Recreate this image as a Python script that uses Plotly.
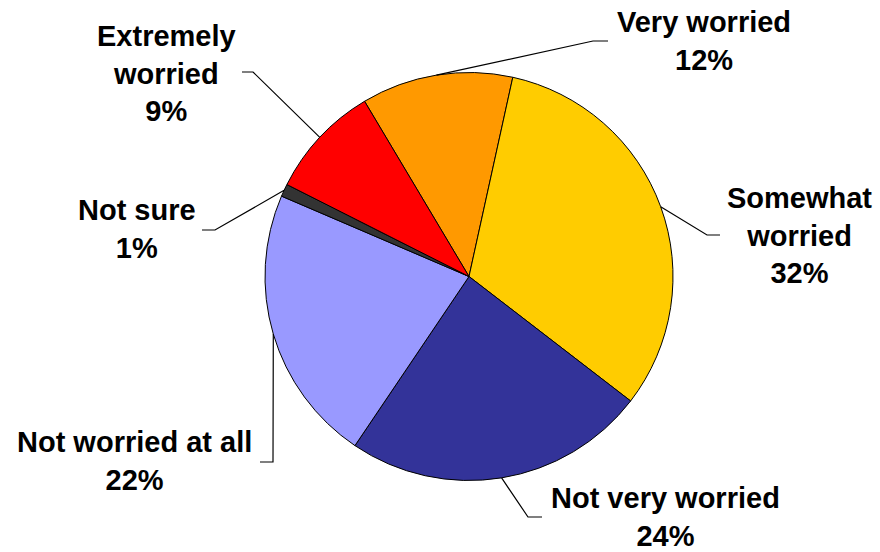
import math
import plotly.graph_objects as go

# ---- data ----
categories = ["Very worried", "Somewhat worried", "Not very worried",
              "Not worried at all", "Not sure", "Extremely worried"]
label_text = ["Very worried", "Somewhat<br>worried", "Not very worried",
              "Not worried at all", "Not sure", "Extremely<br>worried"]
values = [12, 32, 24, 22, 1, 9]
colors = ["#FF9900", "#FFCC00", "#333399", "#9999FF", "#333333", "#FF0000"]

# ---- layout (pixels in 880x552 canvas) ----
W, H = 880, 552
CX, CY, R = 469, 276.5, 204
ROTATION = -30.8  # degrees clockwise from 12 o'clock where first slice starts
# label center (x, y) and leader polyline points after the arc anchor
label_pos = [(704, 41), (799, 235), (665, 517), (134, 461), (137, 229), (166, 73)]
leader_pts = [
    [(593, 41), (608, 41)],
    [(707, 235), (720, 235)],
    [(528, 517), (542, 517)],
    [(273, 462), (260, 462)],
    [(215, 230), (202, 230)],
    [(253, 72), (242, 72)],
]

FONT = "Liberation Sans, Arial, sans-serif"

fig = go.Figure(go.Pie(
    labels=categories,
    values=values,
    sort=False,
    direction="clockwise",
    rotation=ROTATION,
    marker=dict(colors=colors, line=dict(color="black", width=1)),
    textinfo="none",
    hoverinfo="label+percent",
    domain=dict(x=[(CX - R) / W, (CX + R) / W],
                y=[1 - (CY + R) / H, 1 - (CY - R) / H]),
    showlegend=False,
))

total = sum(values)
cum = 0
shapes = []
annotations = []
for i, v in enumerate(values):
    mid = ROTATION + (cum + v / 2) / total * 360
    cum += v
    ax = CX + R * math.sin(math.radians(mid))
    ay = CY - R * math.cos(math.radians(mid))
    pts = [(ax, ay)] + leader_pts[i]
    path = "M " + " L ".join(f"{x / W:.5f},{1 - y / H:.5f}" for x, y in pts)
    shapes.append(dict(type="path", xref="paper", yref="paper", path=path,
                       line=dict(color="black", width=1.2)))
    lx, ly = label_pos[i]
    pct = round(v / total * 100)
    annotations.append(dict(
        x=lx / W, y=1 - ly / H, xref="paper", yref="paper",
        xanchor="center", yanchor="middle", showarrow=False, align="center",
        text=f"<b>{label_text[i]}<br>{pct}%</b>",
        font=dict(family=FONT, size=29, color="black"),
    ))

fig.update_layout(
    width=W, height=H,
    margin=dict(l=0, r=0, t=0, b=0),
    paper_bgcolor="white", plot_bgcolor="white",
    shapes=shapes, annotations=annotations,
)

fig.write_html("out.html",
               config={"displayModeBar": False},
               post_script="document.body.style.margin='0';document.body.style.overflow='hidden';")
